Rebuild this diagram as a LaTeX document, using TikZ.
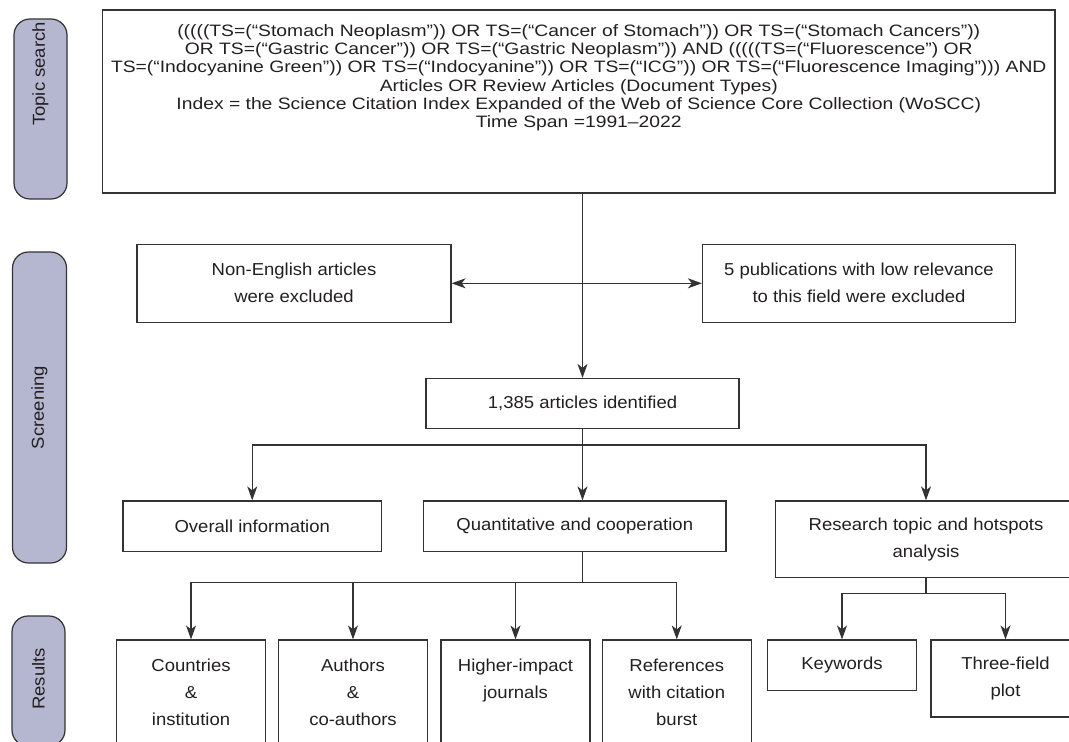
\documentclass[tikz,border=0pt]{standalone}
\usepackage{fontspec}
\setmainfont[FakeStretch=1.07]{Liberation Sans}
\newfontfamily\requetefont[FakeStretch=1.17]{Liberation Sans}
\usetikzlibrary{arrows.meta}
\usetikzlibrary{positioning}
\definecolor{lavande}{HTML}{B5B7D1}
\definecolor{trait}{HTML}{333333}
\definecolor{encre}{HTML}{231F20}

\begin{document}
\begin{tikzpicture}[x=1pt,y=-1pt]
% les styles
\tikzstyle boite=[draw=trait,line width=1.2pt,align=center,inner sep=0pt,text=encre,font=\fontsize{17.3}{27}\selectfont]
\tikzstyle basboite=[boite,minimum width=149pt]
\tikzstyle bastexte=[align=center,inner sep=0pt,text=encre,font=\fontsize{17.3}{27}\selectfont]
\tikzstyle pilule=[draw=trait,fill=lavande,line width=1.2pt,rounded corners=16pt,inner sep=0pt,rotate=90]
\tikzstyle piltexte=[inner sep=0pt,rotate=90,text=encre,font=\fontsize{17.3}{20}\selectfont]
\tikzstyle lien=[draw=trait,line width=1.2pt]
\tikzstyle fleche=[lien,-{Stealth[length=14pt,width=10pt,inset=4pt]}]
\tikzstyle doublefleche=[lien,{Stealth[length=14pt,width=10pt,inset=4pt]}-{Stealth[length=14pt,width=10pt,inset=4pt]}]
\newcommand{\hautbas}{640} % haut des boites du bas
\useasboundingbox (0,0) rectangle (1069,742);
\clip (0,0) rectangle (1069,742);
% les pilules
\node[pilule,minimum width=180pt,minimum height=53pt] (ptopic) at (40.5,109) {};
\node[piltexte] (ttopic) at (40.5,74) {Topic search};
\node[pilule,minimum width=311pt,minimum height=54pt] (pscreen) at (39.5,407.5) {};
\node[piltexte] (tscreen) at (pscreen.center) {Screening};
\node[pilule,minimum width=130pt,minimum height=53pt] (presult) at (38.5,681) {};
\node[piltexte] (tresult) at (38.5,679) {Results};
% la requete
\node[boite,minimum width=952.5pt,minimum height=183pt] (requete) at (578.75,101.5) {};
\node[bastexte,below=15pt of requete.north,font=\requetefont\fontsize{16.5}{18.2}\selectfont] (trequete)
{(((((TS=(“Stomach Neoplasm”)) OR TS=(“Cancer of Stomach”)) OR TS=(“Stomach Cancers”))\\
OR TS=(“Gastric Cancer”)) OR TS=(“Gastric Neoplasm”)) AND (((((TS=(“Fluorescence”) OR\\
TS=(“Indocyanine Green”)) OR TS=(“Indocyanine”)) OR TS=(“ICG”)) OR TS=(“Fluorescence Imaging”))) AND\\
Articles OR Review Articles (Document Types)\\
Index = the Science Citation Index Expanded of the Web of Science Core Collection (WoSCC)\\
Time Span =1991–2022};
% le tri
\node[boite,minimum width=314pt,minimum height=78pt] (exclua) at (294,283.3) {Non-English articles\\were excluded};
\node[boite,minimum width=313pt,minimum height=78pt] (exclub) at (859,283.3) {5 publications with low relevance\\to this field were excluded};
\node[boite,minimum width=313pt,minimum height=50pt] (ident) at (582.5,403.5) {1,385 articles identified};
% les analyses
\node[boite,minimum width=258.5pt,minimum height=50.7pt] (global) at (252.25,526.3) {Overall information};
\node[boite,minimum width=302.5pt,minimum height=50.7pt] (quanti) at (574.75,526.3) {Quantitative and cooperation};
\node[boite,minimum width=301pt,minimum height=76.7pt] (sujet) at (926,539.3) {Research topic and hotspots\\analysis};
% les resultats
\node[basboite,minimum height=106pt] (pays) at (191,\hautbas+53) {};
\node[basboite,minimum height=106pt] (auteurs) at (353,\hautbas+53) {};
\node[basboite,minimum height=106pt] (revues) at (515.5,\hautbas+53) {};
\node[basboite,minimum height=106pt] (refs) at (676.75,\hautbas+53) {};
\node[bastexte,below=19pt of pays.north] (tpays) {Countries\\\&\\institution};
\node[bastexte,below=19pt of auteurs.north] (tauteurs) {Authors\\\&\\co-authors};
\node[bastexte,below=19pt of revues.north] (trevues) {Higher-impact\\journals};
\node[bastexte,below=19pt of refs.north] (trefs) {References\\with citation\\burst};
\node[basboite,minimum height=50.3pt] (motscles) at (842,\hautbas+25.15) {Keywords};
\node[basboite,minimum height=77pt] (champs) at (1005.5,\hautbas+38.5) {Three-field\\plot};
% les liens
\coordinate (embA) at (582.5,445);
\coordinate (embB) at (582.5,582.3);
\coordinate (embC) at (926,593.3);
\draw[fleche] (ident.north |- requete.south) -- (ident.north);
\draw[doublefleche] (exclua.east) -- (exclub.west);
\draw[lien] (ident.south) -- (embA);
\draw[fleche] (embA) -| (global.north);
\draw[fleche] (embA) -| (sujet.north);
\draw[fleche] (embA) -- (embA |- quanti.north);
\draw[lien] (quanti.south -| embB) -- (embB);
\foreach \n in {pays,auteurs,revues,refs}
    \draw[fleche] (embB) -| (\n.north);
\draw[lien] (sujet.south) -- (embC);
\foreach \n in {motscles,champs}
    \draw[fleche] (embC) -| (\n.north);
\end{tikzpicture}
\end{document}
